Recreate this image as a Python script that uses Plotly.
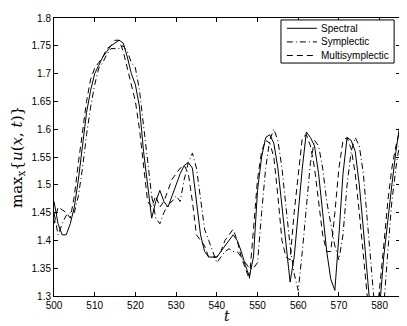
"""max{u(x,t)} over time for three integrators"""

import plotly.graph_objects as go

t = list(range(500, 586))

spectral = [
    1.47, 1.43, 1.41, 1.41, 1.43, 1.46, 1.51, 1.57, 1.63, 1.67,
    1.70, 1.715, 1.73, 1.74, 1.75, 1.755, 1.76, 1.755, 1.73, 1.70,
    1.68, 1.64, 1.56, 1.50, 1.44, 1.47, 1.49, 1.47, 1.46, 1.48,
    1.50, 1.52, 1.535, 1.54, 1.53, 1.47, 1.41, 1.38, 1.37, 1.37,
    1.37, 1.38, 1.39, 1.40, 1.41, 1.40, 1.38, 1.355, 1.335, 1.37,
    1.49, 1.55, 1.585, 1.59, 1.575, 1.53, 1.46, 1.39, 1.325, 1.37,
    1.45, 1.53, 1.595, 1.585, 1.57, 1.52, 1.45, 1.38, 1.33, 1.31,
    1.41, 1.52, 1.585, 1.58, 1.56, 1.50, 1.42, 1.33, 1.25, 1.22,
    1.28, 1.37, 1.44, 1.50, 1.56, 1.61,
]

symplectic = [
    1.45, 1.41, 1.43, 1.445, 1.45, 1.45, 1.48, 1.53, 1.59, 1.64,
    1.68, 1.71, 1.72, 1.735, 1.745, 1.745, 1.745, 1.75, 1.74, 1.72,
    1.71, 1.67, 1.61, 1.55, 1.48, 1.44, 1.43, 1.45, 1.465, 1.47,
    1.48, 1.47, 1.51, 1.54, 1.557, 1.53, 1.47, 1.42, 1.40, 1.38,
    1.36, 1.37, 1.38, 1.385, 1.38, 1.38, 1.37, 1.36, 1.35, 1.35,
    1.36, 1.45, 1.53, 1.58, 1.60, 1.58, 1.53, 1.46, 1.39, 1.34,
    1.31, 1.38, 1.46, 1.54, 1.58, 1.57, 1.53, 1.47, 1.43, 1.39,
    1.365, 1.41, 1.50, 1.56, 1.585, 1.57, 1.52, 1.44, 1.35, 1.26,
    1.22, 1.28, 1.38, 1.47, 1.53, 1.58,
]

multisymplectic = [
    1.43, 1.46, 1.455, 1.45, 1.44, 1.48, 1.54, 1.60, 1.65, 1.69,
    1.71, 1.72, 1.73, 1.745, 1.75, 1.76, 1.76, 1.74, 1.71, 1.68,
    1.65, 1.60, 1.53, 1.47, 1.46, 1.48, 1.46, 1.47, 1.49, 1.51,
    1.52, 1.53, 1.535, 1.52, 1.47, 1.41, 1.40, 1.39, 1.37, 1.37,
    1.37, 1.38, 1.40, 1.41, 1.42, 1.40, 1.37, 1.35, 1.33, 1.42,
    1.51, 1.56, 1.58, 1.575, 1.55, 1.48, 1.40, 1.37, 1.365, 1.45,
    1.52, 1.585, 1.59, 1.57, 1.53, 1.47, 1.41, 1.38, 1.38, 1.45,
    1.53, 1.58, 1.585, 1.565, 1.52, 1.45, 1.37, 1.29, 1.22, 1.24,
    1.31, 1.39, 1.47, 1.53, 1.57, 1.60,
]

x_ticks = [500, 510, 520, 530, 540, 550, 560, 570, 580]
y_ticks = [1.3, 1.35, 1.4, 1.45, 1.5, 1.55, 1.6, 1.65, 1.7, 1.75, 1.8]
y_labels = ["1.3", "1.35", "1.4", "1.45", "1.5", "1.55", "1.6", "1.65", "1.7", "1.75", "1.8"]

series = [
    ("Spectral", spectral, "solid"),
    ("Symplectic", symplectic, "6px,3px,1px,3px"),
    ("Multisymplectic", multisymplectic, "6px,4px"),
]

fig = go.Figure()
for name, values, dash in series:
    fig.add_trace(go.Scatter(x=t, y=values, name=name, mode="lines",
                             line=dict(color="black", width=1, dash=dash)))

axis_style = dict(showline=True, linecolor="black", linewidth=1, mirror="ticks",
                  ticks="inside", ticklen=4, tickcolor="black", showgrid=False,
                  zeroline=False, ticklabeloverflow="allow",
                  tickfont=dict(family="Liberation Sans, Arial", size=10, color="black"))

fig.update_xaxes(range=[500, 585], tickvals=x_ticks, ticklabelstandoff=0, **axis_style)
fig.update_yaxes(range=[1.3, 1.8], tickvals=y_ticks, ticktext=y_labels,
                 title=dict(text="max<sub>x</sub>{<i>u</i>(<i>x</i>, <i>t</i>)}", standoff=6,
                            font=dict(family="DejaVu Serif, serif", size=15, color="black")),
                 **axis_style)

# x-axis title placed just under the tick labels
fig.add_annotation(text="<i>t</i>", x=0.5, y=0, xref="paper", yref="paper",
                   yanchor="top", yshift=-10, showarrow=False,
                   font=dict(family="DejaVu Serif, serif", size=14, color="black"))

# compact Matlab-style legend box (plotly's own legend rows are too tall)
fig.add_shape(type="rect", xref="paper", yref="paper", x0=0.656, x1=0.983, y0=0.838, y1=0.993,
              line=dict(color="black", width=1), fillcolor="white", layer="above")
row_y = [0.963, 0.914, 0.865]
for (name, _, dash), ry in zip(series, row_y):
    fig.add_shape(type="line", xref="paper", yref="paper", x0=0.673, x1=0.760, y0=ry, y1=ry,
                  line=dict(color="black", width=1, dash=dash), layer="above")
    fig.add_annotation(text=name, x=0.766, y=ry, xref="paper", yref="paper",
                       xanchor="left", yanchor="middle", showarrow=False,
                       font=dict(family="Liberation Sans, Arial", size=10, color="black"))

fig.update_layout(
    width=399, height=318,
    margin={"l": 46, "r": 7, "t": 4, "b": 30},
    plot_bgcolor="white", paper_bgcolor="white",
    showlegend=False,
)

fig.write_html("out.html")
